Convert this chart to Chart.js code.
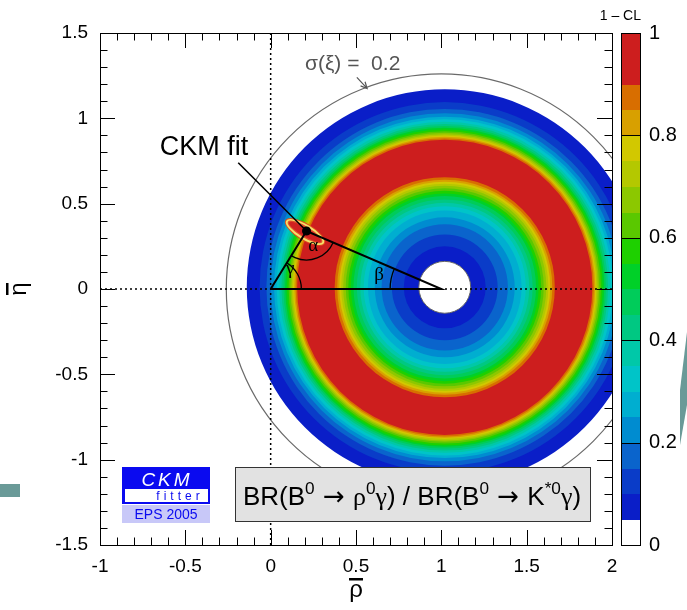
<!DOCTYPE html>
<html><head><meta charset="utf-8">
<script src="https://cdn.jsdelivr.net/npm/chart.js@4/dist/chart.umd.min.js"></script>
<style>html,body{margin:0;padding:0;background:#fff}</style>
</head><body>
<canvas id="c" width="687" height="610"></canvas>
<script>
// 1-CL contour levels; each region 1-CL >= level is an annulus around ringCenter
const ringCenter  = {x: 1.02, y: 0.01};
const levels      = [0.05, 0.10, 0.15, 0.20, 0.25, 0.30, 0.35, 0.40, 0.45, 0.50, 0.55, 0.60, 0.65, 0.70, 0.75, 0.80, 0.85, 0.90];
const innerRadius = [0.152,0.240,0.310,0.370,0.410,0.450,0.475,0.495,0.515,0.535,0.550,0.565,0.580,0.595,0.607,0.618,0.630,0.645];
const outerRadius = [1.160,1.085,1.045,1.020,1.000,0.985,0.970,0.957,0.945,0.935,0.925,0.915,0.905,0.897,0.889,0.882,0.874,0.865];
const levelColors = ['#0a1ec8','#0a3cc8','#0a64cc','#008cd0','#00aed0','#00c4c8','#00c8a8','#00c882','#00cc5a','#00d028',
                     '#1ed000','#5ac800','#8cc800','#b4c800','#d2c800','#d8a000','#d86e00','#cd1e1e'];

// axis ticks
const xTicks  = [-1, -0.5, 0, 0.5, 1, 1.5, 2];
const yTicks  = [-1.5, -1, -0.5, 0, 0.5, 1, 1.5];
const clTicks = [0, 0.2, 0.4, 0.6, 0.8, 1];

// global fit apex of the unitarity triangle
const apex = {x: 0.21, y: 0.34};
// annotation anchors
const fitLabelEnd   = {x: -0.19, y: 0.74};
const sigmaXiRadius = 1.26;

const SANS = '"Liberation Sans", Arial, Helvetica, sans-serif';
const SERIF = '"Liberation Serif", "Times New Roman", serif';
const DJ = '"DejaVu Sans", sans-serif';

function colorAt(v){
  if (v < levels[0]) return '#ffffff';
  let c = levelColors[0];
  levels.forEach((lv,i)=>{ if (v >= lv - 1e-9) c = levelColors[i]; });
  return c;
}

function drawRich(ctx, parts, cx, base, size){
  const fontOf = p => {
    const s = p.sup ? size*0.66 : size;
    const fam = p.greek ? SERIF : (p.sym ? DJ : SANS);
    return s.toFixed(1) + 'px ' + fam;
  };
  let total = 0;
  const w = parts.map(p => { ctx.font = fontOf(p); const m = ctx.measureText(p.t).width; total += m; return m; });
  let xx = cx - total/2;
  ctx.textAlign = 'left'; ctx.textBaseline = 'alphabetic';
  parts.forEach((p,i)=>{
    ctx.font = fontOf(p);
    ctx.fillText(p.t, xx, base - (p.sup ? size*0.42 : 0));
    xx += w[i];
  });
}

const decor = {
  id: 'decor',
  beforeDatasetsDraw(chart){
    const {ctx, chartArea: a, scales: {x, y}} = chart;
    const kx = x.getPixelForValue(1) - x.getPixelForValue(0);
    const ky = y.getPixelForValue(0) - y.getPixelForValue(1);
    ctx.save();
    ctx.beginPath(); ctx.rect(a.left, a.top, a.right - a.left, a.bottom - a.top); ctx.clip();
    // filled CL contours
    const rx = x.getPixelForValue(ringCenter.x), ry = y.getPixelForValue(ringCenter.y);
    levels.forEach((lv, i) => {
      ctx.beginPath();
      ctx.ellipse(rx, ry, outerRadius[i]*kx, outerRadius[i]*ky, 0, 0, Math.PI*2);
      ctx.moveTo(rx + innerRadius[i]*kx, ry);
      ctx.ellipse(rx, ry, innerRadius[i]*kx, innerRadius[i]*ky, 0, 0, Math.PI*2, true);
      ctx.fillStyle = levelColors[i];
      ctx.fill('evenodd');
    });
    // rim of the excluded core
    ctx.beginPath();
    ctx.ellipse(rx, ry, innerRadius[0]*kx, innerRadius[0]*ky, 0, 0, Math.PI*2);
    ctx.strokeStyle = '#666'; ctx.lineWidth = 1; ctx.stroke();
    // sigma(xi) = 0.2 reference circle around (1,0)
    const cx = x.getPixelForValue(1), cy = y.getPixelForValue(0);
    ctx.beginPath();
    ctx.ellipse(cx, cy, sigmaXiRadius*kx, sigmaXiRadius*ky, 0, 0, Math.PI*2);
    ctx.strokeStyle = '#6a6a6a'; ctx.lineWidth = 1.2; ctx.stroke();
    // global fit contours around the apex
    const px = x.getPixelForValue(apex.x) - 1.5, py = y.getPixelForValue(apex.y) + 1;
    const ang = Math.atan2(0.6, 1);
    const rings = [[23, 8.5, '#e04a1c'], [22, 7.5, '#f4e06a'], [20, 5.5, '#e0502a'], [18.5, 4.2, '#d02020']];
    rings.forEach(([ra, rb, col]) => {
      ctx.beginPath(); ctx.ellipse(px, py, ra, rb, ang, 0, Math.PI*2);
      ctx.fillStyle = col; ctx.fill();
    });
    ctx.restore();
  },
  afterDatasetsDraw(chart){
    const {ctx, chartArea: a, scales: {x, y, cl}} = chart;
    const P = (u, v) => [x.getPixelForValue(u), y.getPixelForValue(v)];
    const kx = x.getPixelForValue(1) - x.getPixelForValue(0);
    ctx.save();
    // angle arcs of the triangle
    ctx.strokeStyle = '#000'; ctx.lineWidth = 1.3;
    const [ox, oy] = P(0, 0), [bx, by] = P(1, 0), [ax, ay] = P(apex.x, apex.y);
    const gAng = Math.atan2(apex.y, apex.x);
    const bAng = Math.atan2(apex.y, apex.x - 1);
    ctx.beginPath(); ctx.arc(ox, oy, 0.18*kx, -gAng, 0); ctx.stroke();
    ctx.beginPath(); ctx.arc(bx, by, 0.30*kx, -Math.PI, -bAng); ctx.stroke();
    const a1 = Math.atan2(-apex.y, -apex.x), a2 = Math.atan2(-apex.y, 1 - apex.x);
    ctx.beginPath(); ctx.arc(ax, ay, 0.17*kx, -a2, -a1); ctx.stroke();
    ctx.fillStyle = '#000'; ctx.font = '19px ' + SERIF; ctx.textAlign = 'center'; ctx.textBaseline = 'middle';
    let p;
    p = P(0.25, 0.25);  ctx.fillText('α', p[0], p[1]);
    p = P(0.635, 0.08); ctx.fillText('β', p[0], p[1]);
    p = P(0.115, 0.12); ctx.fillText('γ', p[0], p[1]);

    // frame and inward ticks
    ctx.strokeStyle = '#000'; ctx.lineWidth = 1;
    ctx.strokeRect(Math.round(a.left) + 0.5, Math.round(a.top) + 0.5, Math.round(a.right - a.left), Math.round(a.bottom - a.top));
    ctx.beginPath();
    for (let k = -10; k <= 20; k++) {
      const L = (k % 5 === 0) ? 15 : 7.5;
      const xp = Math.round(x.getPixelForValue(k/10)) + 0.5;
      ctx.moveTo(xp, a.bottom); ctx.lineTo(xp, a.bottom - L);
      ctx.moveTo(xp, a.top); ctx.lineTo(xp, a.top + L);
    }
    for (let k = -15; k <= 15; k++) {
      const L = (k % 5 === 0) ? 15 : 7.5;
      const yp = Math.round(y.getPixelForValue(k/10)) + 0.5;
      ctx.moveTo(a.left, yp); ctx.lineTo(a.left + L, yp);
      ctx.moveTo(a.right, yp); ctx.lineTo(a.right - L, yp);
    }
    ctx.stroke();

    // axis titles: rho-bar and eta-bar
    ctx.fillStyle = '#000'; ctx.font = '24px ' + SANS; ctx.textAlign = 'center'; ctx.textBaseline = 'alphabetic';
    const xMid = (a.left + a.right) / 2;
    ctx.fillText('ρ', xMid, 597);
    ctx.fillRect(xMid - 7, 578, 14, 2.5);
    ctx.save();
    ctx.translate(26, (a.top + a.bottom) / 2);
    ctx.rotate(-Math.PI / 2);
    ctx.fillText('η', 0, 0);
    ctx.fillRect(-6, -20, 12, 2.5);
    ctx.restore();

    // colour scale
    const cbL = 621, cbR = 640;
    for (let k = 0; k < 40; k++) {
      const v0 = k/40, v1 = (k+1)/40;
      const y0 = cl.getPixelForValue(v1), y1 = cl.getPixelForValue(v0);
      ctx.fillStyle = colorAt(v0 + 1e-6);
      ctx.fillRect(cbL, Math.floor(y0), cbR - cbL, Math.ceil(y1) - Math.floor(y0));
    }
    ctx.strokeStyle = '#000'; ctx.lineWidth = 1;
    ctx.strokeRect(cbL + 0.5, Math.round(cl.getPixelForValue(1)) + 0.5, cbR - cbL, Math.round(cl.getPixelForValue(0) - cl.getPixelForValue(1)));
    ctx.beginPath();
    clTicks.forEach(v => { if (v > 0 && v < 1) { const yp = Math.round(cl.getPixelForValue(v)) + 0.5; ctx.moveTo(cbL, yp); ctx.lineTo(cbR, yp); } });
    ctx.stroke();
    ctx.fillStyle = '#000'; ctx.font = '14px ' + SANS; ctx.textAlign = 'right'; ctx.textBaseline = 'alphabetic';
    ctx.fillText('1 – CL', 641, 20);

    // sigma(xi) annotation
    ctx.fillStyle = '#555'; ctx.font = '21px ' + SANS; ctx.textAlign = 'left';
    ctx.fillText('σ(ξ) =  0.2', 305, 70);
    ctx.strokeStyle = '#555'; ctx.lineWidth = 1.2;
    const [s0x, s0y] = P(0.505, 1.24), [s1x, s1y] = P(0.565, 1.175);
    ctx.beginPath(); ctx.moveTo(s0x, s0y); ctx.lineTo(s1x, s1y);
    const th = Math.atan2(s1y - s0y, s1x - s0x);
    ctx.moveTo(s1x - 7*Math.cos(th - 0.45), s1y - 7*Math.sin(th - 0.45)); ctx.lineTo(s1x, s1y);
    ctx.lineTo(s1x - 7*Math.cos(th + 0.45), s1y - 7*Math.sin(th + 0.45));
    ctx.stroke();

    // fit label
    ctx.fillStyle = '#000'; ctx.font = '27px ' + SANS; ctx.textAlign = 'center';
    ctx.fillText('CKM fit', 204, 155);

    // observable box
    ctx.fillStyle = '#e2e2e2'; ctx.fillRect(235, 467, 355, 54);
    ctx.strokeStyle = '#333'; ctx.lineWidth = 1; ctx.strokeRect(235.5, 467.5, 355, 54);
    ctx.fillStyle = '#000';
    drawRich(ctx, [
      {t: 'BR(B'}, {t: '0', sup: true}, {t: ' → ', sym: true}, {t: 'ρ', greek: true}, {t: '0', sup: true}, {t: 'γ', greek: true},
      {t: ') / BR(B'}, {t: '0', sup: true}, {t: ' → ', sym: true}, {t: 'K'}, {t: '*0', sup: true}, {t: 'γ', greek: true}, {t: ')'}
    ], 412, 505, 26);

    // CKMfitter badge
    ctx.fillStyle = '#0a0af0'; ctx.fillRect(122, 467, 88, 37);
    ctx.fillStyle = '#ffffff'; ctx.fillRect(125, 489, 83, 13);
    ctx.fillStyle = '#c8c8f8'; ctx.fillRect(122, 505, 88, 18);
    ctx.fillStyle = '#ffffff'; ctx.font = 'italic 19px ' + SANS; ctx.textAlign = 'center';
    ctx.letterSpacing = '3px';
    ctx.fillText('CKM', 167, 486);
    ctx.fillStyle = '#0a0af0'; ctx.font = '12px ' + SANS; ctx.letterSpacing = '4px';
    ctx.fillText('fitter', 180, 500);
    ctx.letterSpacing = '0px';
    ctx.font = '14px ' + SANS; ctx.fillText('EPS 2005', 166, 519);

    // edge marks
    ctx.fillStyle = '#6a9a98';
    ctx.fillRect(0, 484, 20, 13);
    ctx.beginPath(); ctx.moveTo(687, 332); ctx.lineTo(680, 390); ctx.lineTo(680, 445); ctx.lineTo(687, 405); ctx.closePath(); ctx.fill();
    ctx.restore();
  }
};

const lineDs = (data, extra) => Object.assign({data, showLine: true, pointRadius: 0, borderColor: '#000', borderWidth: 2, fill: false}, extra);

new Chart(document.getElementById('c'), {
  type: 'scatter',
  data: {
    datasets: [
      {data: [apex], pointRadius: 4.5, pointBackgroundColor: '#000', pointBorderWidth: 0, order: 0},
      lineDs([{x: 0, y: 0}, {x: 1, y: 0}, apex, {x: 0, y: 0}], {order: 1}),
      lineDs([fitLabelEnd, apex], {order: 1, borderWidth: 1.6}),
      lineDs([{x: 0, y: -1.5}, {x: 0, y: 1.5}], {order: 5, borderWidth: 1.5, borderDash: [2, 3]}),
      lineDs([{x: -1, y: 0}, {x: 2, y: 0}], {order: 5, borderWidth: 1.5, borderDash: [2, 3]})
    ]
  },
  options: {
    responsive: false, animation: false, devicePixelRatio: 1,
    layout: {padding: {top: 33, left: 0, right: 0, bottom: 0}},
    plugins: {legend: {display: false}, tooltip: {enabled: false}},
    scales: {
      x: {
        type: 'linear', position: 'bottom', min: -1, max: 2,
        grid: {display: false, drawTicks: false}, border: {display: false},
        afterBuildTicks: s => { s.ticks = xTicks.map(v => ({value: v})); },
        afterFit: s => { s.height = 65; },
        ticks: {color: '#000', font: {family: SANS, size: 19}, padding: 10, maxRotation: 0, autoSkip: false, callback: v => String(v)}
      },
      y: {
        type: 'linear', position: 'left', min: -1.5, max: 1.5,
        grid: {display: false, drawTicks: false}, border: {display: false},
        afterBuildTicks: s => { s.ticks = yTicks.map(v => ({value: v})); },
        afterFit: s => { s.width = 100; s.paddingTop = 0; s.paddingBottom = 0; },
        ticks: {color: '#000', font: {family: SANS, size: 19}, padding: 12, autoSkip: false, callback: v => String(v)}
      },
      cl: {
        type: 'linear', axis: 'y', position: 'right', min: 0, max: 1,
        grid: {display: false, drawTicks: false}, border: {display: false},
        afterBuildTicks: s => { s.ticks = clTicks.map(v => ({value: v})); },
        afterFit: s => { s.width = 75; s.paddingTop = 0; s.paddingBottom = 0; },
        ticks: {color: '#000', font: {family: SANS, size: 20}, padding: 37, autoSkip: false, callback: v => String(v)}
      }
    }
  },
  plugins: [decor]
});
</script>
</body></html>
